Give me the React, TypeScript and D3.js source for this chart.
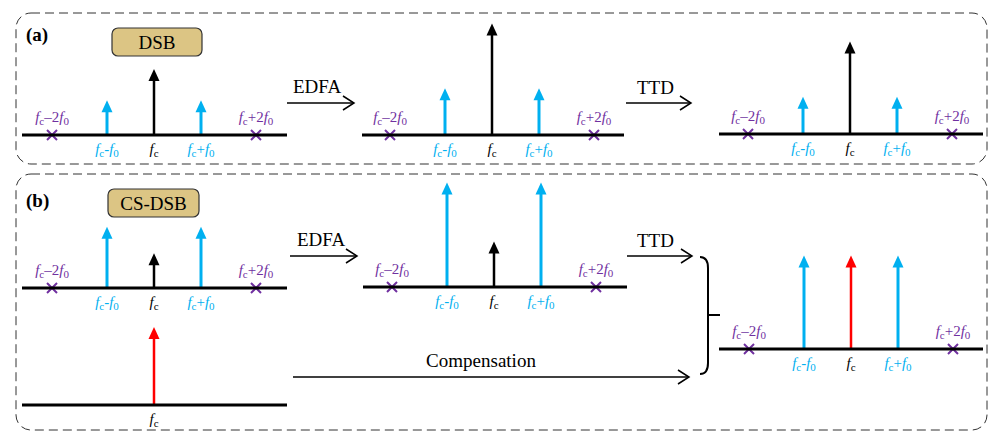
import React from "react";
import * as d3 from "d3";

// ---- Data ----
// Relative frequency slots: fc-2f0, fc-f0, fc, fc+f0, fc+2f0
const slotNames = ["fc-2f0", "fc-f0", "fc", "fc+f0", "fc+2f0"];
const slotOffsets = [-2.17, -1, 0, 1, 2.17];
const slotKinds = ["cross", "side", "carrier", "side", "cross"];
// Amplitudes (arbitrary units) per spectrum
const ampDSB = [0, 0.29, 0.55, 0.29, 0];
const ampDSBEdfa = [0, 0.39, 0.93, 0.39, 0];
const ampDSBTtd = [0, 0.31, 0.77, 0.31, 0];
const ampCS = [0, 0.51, 0.29, 0.51, 0];
const ampCSEdfa = [0, 0.87, 0.38, 0.87, 0];
const ampCSOut = [0, 0.78, 0.78, 0.78, 0];
const ampComp = [0.65];
const processLabels = ["EDFA", "TTD", "EDFA", "TTD", "Compensation"];
const panelLabels = ["(a)", "(b)"];
const modLabels = ["DSB", "CS-DSB"];

// ---- Styles / layout ----
const BLUE = "#00b0f0";
const PURPLE = "#7030a0";
const RED = "#ff0000";
const TAN = "#dcc584";
const FONT = "'Liberation Serif', 'Times New Roman', serif";

const yAmp = d3.scaleLinear().domain([0, 1]).range([0, 120]);

type SpecProps = {
  cx: number;
  axisY: number;
  x0: number;
  x1: number;
  amps: number[];
  carrierColor?: string;
  onlyCarrier?: boolean;
};

function Label({ name, x, y, color }: { name: string; x: number; y: number; color: string }) {
  const big = 15;
  const sub = 11;
  const f = (k: string) => (
    <tspan key={k} fontStyle="italic" fontSize={big}>f</tspan>
  );
  let mid = "";
  if (name === "fc-2f0") mid = "–2";
  else if (name === "fc+2f0") mid = "+2";
  else if (name === "fc-f0") mid = "-";
  else if (name === "fc+f0") mid = "+";
  const parts: any[] = [f("a"), <tspan key="b" fontSize={sub} dy={3}>c</tspan>];
  if (name !== "fc") {
    parts.push(<tspan key="c" fontSize={big} dy={-3}>{mid}</tspan>);
    parts.push(f("d"));
    parts.push(<tspan key="e" fontSize={sub} dy={3}>0</tspan>);
  }
  return (
    <text x={x} y={y} textAnchor="middle" fill={color} fontFamily={FONT} fontSize={big}>
      {parts}
    </text>
  );
}

function Spectrum({ cx, axisY, x0, x1, amps, carrierColor = "#000", onlyCarrier }: SpecProps) {
  const x = d3.scaleLinear().domain([-1, 1]).range([cx - 47, cx + 47]);
  const items = onlyCarrier
    ? [{ i: 2, amp: amps[0] }]
    : slotOffsets.map((o, i) => ({ i, amp: amps[i] }));
  return (
    <g>
      {items.map(({ i, amp }) => {
        const kind = slotKinds[i];
        const px = x(slotOffsets[i]);
        if (kind === "cross") {
          return (
            <g key={i}>
              <path
                d={`M${px - 5},${axisY - 5}L${px + 5},${axisY + 5}M${px - 5},${axisY + 5}L${px + 5},${axisY - 5}`}
                stroke={PURPLE}
                strokeWidth={2}
              />
              <Label name={slotNames[i]} x={px} y={axisY - 13} color={PURPLE} />
            </g>
          );
        }
        const color = kind === "side" ? BLUE : carrierColor;
        const top = axisY - yAmp(amp);
        const sw = kind === "side" ? 3 : 2.5;
        return (
          <g key={i}>
            <line x1={px} x2={px} y1={axisY} y2={top + 10} stroke={color} strokeWidth={sw} />
            <path d={`M${px},${top}L${px - 5.5},${top + 12}L${px + 5.5},${top + 12}Z`} fill={color} />
            <Label name={slotNames[i]} x={px} y={axisY + 19} color={kind === "side" ? BLUE : "#000"} />
          </g>
        );
      })}
      <line x1={x0} x2={x1} y1={axisY} y2={axisY} stroke="#000" strokeWidth={3} />
    </g>
  );
}

function Arrow({ x0, x1, y, label, tx, ty, anchor = "start" }: any) {
  return (
    <g>
      <line x1={x0} x2={x1} y1={y} y2={y} stroke="#000" strokeWidth={1.5} />
      <path d={`M${x1 - 11},${y - 7}L${x1},${y}L${x1 - 11},${y + 7}`} fill="none" stroke="#000" strokeWidth={1.5} />
      <text x={tx} y={ty} textAnchor={anchor} fontFamily={FONT} fontSize={19}>{label}</text>
    </g>
  );
}

export default function App() {
  return (
    <svg width={990} height={433} style={{ position: "absolute", left: 0, top: 0, background: "#fff" }}>
      {/* panel boxes */}
      <rect x={16} y={13} width={971} height={151} rx={15} fill="none" stroke="#333" strokeWidth={1} strokeDasharray="9,5" />
      <rect x={16} y={174} width={971} height={256} rx={15} fill="none" stroke="#333" strokeWidth={1} strokeDasharray="9,5" />
      <text x={26} y={41} fontFamily={FONT} fontWeight="bold" fontSize={19}>{panelLabels[0]}</text>
      <text x={26} y={207} fontFamily={FONT} fontWeight="bold" fontSize={19}>{panelLabels[1]}</text>

      <rect x={112} y={28} width={90} height={28} rx={6} fill={TAN} stroke="#333" strokeWidth={1.2} />
      <text x={157} y={49} textAnchor="middle" fontFamily={FONT} fontSize={19}>{modLabels[0]}</text>
      <rect x={108} y={189} width={91} height={28} rx={6} fill={TAN} stroke="#333" strokeWidth={1.2} />
      <text x={153.5} y={210} textAnchor="middle" fontFamily={FONT} fontSize={19}>{modLabels[1]}</text>

      {/* (a) spectra */}
      <Spectrum cx={154} axisY={135} x0={22} x1={287} amps={ampDSB} />
      <Spectrum cx={492} axisY={135} x0={362} x1={624} amps={ampDSBEdfa} />
      <Spectrum cx={850} axisY={134} x0={719} x1={983} amps={ampDSBTtd} />

      {/* (b) spectra */}
      <Spectrum cx={154} axisY={288} x0={22} x1={287} amps={ampCS} />
      <Spectrum cx={494} axisY={287} x0={363} x1={627} amps={ampCSEdfa} />
      <Spectrum cx={851} axisY={349} x0={719} x1={983} amps={ampCSOut} carrierColor={RED} />
      <Spectrum cx={154} axisY={405} x0={22} x1={287} amps={ampComp} carrierColor={RED} onlyCarrier />

      {/* arrows */}
      <Arrow x0={287} x1={354} y={103} label={processLabels[0]} tx={293} ty={93} />
      <Arrow x0={626} x1={691} y={103} label={processLabels[1]} tx={637} ty={94} />
      <Arrow x0={290} x1={357} y={256} label={processLabels[2]} tx={297} ty={246} />
      <Arrow x0={627} x1={692} y={256} label={processLabels[3]} tx={637} ty={247} />
      <Arrow x0={293} x1={689} y={377} label={processLabels[4]} tx={481} ty={367} anchor="middle" />

      {/* brace */}
      <path d="M700,257 C706,257 708,261 708,268 L708,363 C708,370 706,374 700,374" fill="none" stroke="#000" strokeWidth={2} />
      <line x1={708} x2={720} y1={315} y2={315} stroke="#000" strokeWidth={2} />
    </svg>
  );
}
